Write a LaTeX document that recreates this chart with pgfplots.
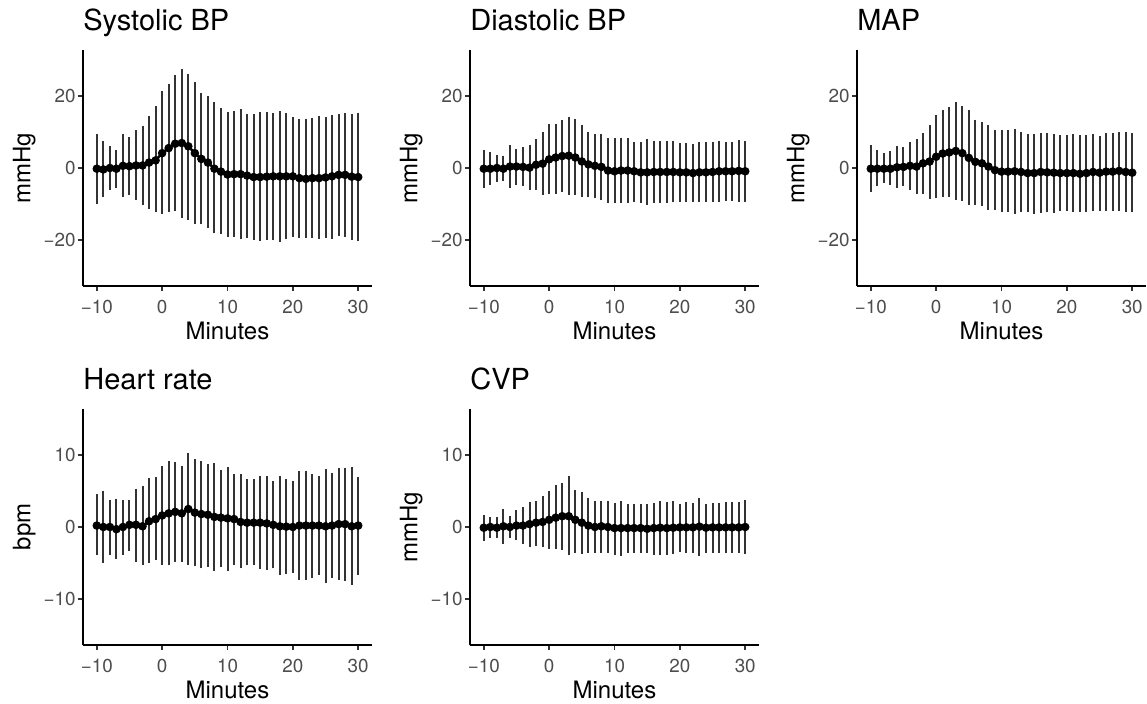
\documentclass[border=0pt]{standalone}
\usepackage{fontspec}
\setmainfont{TeX Gyre Heros}
\usepackage{pgfplots}
\usepackage{pgfplotstable}
\pgfplotsset{compat=1.18}
\definecolor{tickgray}{HTML}{4D4D4D}
\definecolor{bargray}{HTML}{333333}

% columns: minute, mean, lower end, upper end of the error bar
\pgfplotstableread{
t m lo hi
-10 -0.2 -9.2 8.8
-9 -0.4 -7.3 6.7
-8 0.0 -5.3 5.3
-7 -0.2 -4.7 4.3
-6 0.6 -7.4 8.8
-5 0.5 -6.7 7.8
-4 0.7 -8.2 9.7
-3 0.7 -9.6 11.0
-2 1.5 -10.5 13.8
-1 2.1 -11.4 16.3
0 4.1 -12.0 20.5
1 5.5 -11.4 22.5
2 6.7 -11.3 25.0
3 6.9 -13.1 26.7
4 6.0 -13.7 25.4
5 4.1 -14.9 23.0
6 2.5 -14.9 20.1
7 1.5 -16.0 19.2
8 -0.2 -17.4 17.5
9 -1.0 -17.5 15.9
10 -1.8 -18.4 14.8
11 -1.7 -18.4 15.0
12 -1.7 -19.0 15.6
13 -2.1 -18.7 14.3
14 -2.5 -19.3 14.2
15 -2.5 -19.6 14.7
16 -2.4 -19.3 14.7
17 -2.3 -19.1 14.4
18 -2.3 -19.7 15.1
19 -2.3 -19.0 14.6
20 -2.3 -18.4 13.5
21 -2.8 -18.6 12.9
22 -3.0 -18.7 12.9
23 -2.8 -18.7 13.2
24 -2.8 -19.0 13.6
25 -2.6 -18.6 13.4
26 -2.3 -18.8 13.9
27 -1.9 -18.2 14.2
28 -1.9 -18.3 14.6
29 -2.4 -19.1 14.2
30 -2.5 -19.5 14.6
}\sys

\pgfplotstableread{
t m lo hi
-10 -0.2 -4.9 4.4
-9 -0.2 -4.0 3.7
-8 0.0 -3.2 3.0
-7 -0.2 -2.9 2.7
-6 0.4 -4.9 5.6
-5 0.4 -4.1 4.6
-4 0.3 -4.4 5.1
-3 0.1 -5.3 5.8
-2 0.9 -5.3 7.2
-1 1.2 -6.7 9.2
0 2.4 -6.6 11.5
1 2.9 -6.4 11.6
2 3.3 -6.0 12.6
3 3.4 -6.8 13.5
4 2.9 -6.7 12.8
5 1.8 -7.4 11.3
6 1.0 -7.4 9.2
7 0.6 -7.6 8.7
8 0.3 -8.2 8.6
9 -0.7 -9.0 7.6
10 -0.9 -9.0 7.5
11 -0.7 -9.0 7.7
12 -0.7 -9.0 7.6
13 -0.9 -8.8 6.5
14 -1.2 -8.9 6.6
15 -1.2 -9.5 7.2
16 -1.1 -8.9 6.9
17 -1.1 -8.9 6.7
18 -1.1 -9.1 6.8
19 -1.1 -8.8 6.8
20 -1.2 -8.6 6.1
21 -1.2 -8.6 6.3
22 -1.4 -8.7 6.0
23 -1.2 -8.8 6.5
24 -1.2 -8.7 6.5
25 -1.1 -8.7 6.5
26 -0.9 -8.8 6.9
27 -0.9 -8.4 6.5
28 -0.9 -8.3 6.6
29 -0.8 -8.7 7.0
30 -0.9 -8.7 6.8
}\dia

\pgfplotstableread{
t m lo hi
-10 -0.2 -6.0 5.8
-9 -0.2 -4.4 4.3
-8 -0.2 -3.5 3.4
-7 -0.2 -4.0 3.9
-6 0.2 -4.9 5.3
-5 0.3 -4.3 5.0
-4 0.6 -5.4 6.5
-3 0.4 -6.5 7.3
-2 1.3 -6.5 8.9
-1 1.8 -7.8 11.2
0 3.1 -7.6 13.9
1 4.0 -7.3 15.2
2 4.3 -7.4 16.2
3 4.7 -8.2 17.5
4 4.1 -8.4 16.3
5 2.8 -9.5 15.3
6 1.7 -9.4 12.7
7 1.3 -9.8 12.0
8 0.4 -10.8 11.2
9 -0.6 -11.0 9.9
10 -1.0 -11.5 9.9
11 -1.0 -11.5 9.7
12 -0.9 -11.9 10.1
13 -1.1 -11.6 9.3
14 -1.4 -11.6 8.8
15 -1.4 -12.0 8.8
16 -1.1 -11.7 9.1
17 -1.2 -11.6 8.9
18 -1.3 -11.8 8.8
19 -1.4 -11.2 8.3
20 -1.4 -11.2 8.3
21 -1.4 -11.5 8.7
22 -1.6 -11.4 8.3
23 -1.4 -11.4 8.5
24 -1.1 -11.3 8.8
25 -1.3 -11.2 8.1
26 -1.0 -11.2 8.9
27 -1.0 -11.2 9.0
28 -0.8 -11.2 9.2
29 -1.1 -11.4 9.2
30 -1.3 -11.4 8.9
}\map

\pgfplotstableread{
t m lo hi
-10 0.2 -3.6 4.2
-9 0.0 -4.6 4.7
-8 0.0 -3.5 3.4
-7 -0.3 -4.1 3.6
-6 0.0 -3.5 3.4
-5 0.3 -3.0 3.4
-4 0.3 -4.5 5.0
-3 0.1 -5.0 5.3
-2 0.8 -4.6 6.4
-1 1.1 -4.3 6.6
0 1.6 -4.9 8.1
1 1.9 -5.0 8.8
2 2.1 -4.5 8.7
3 1.9 -4.5 8.2
4 2.5 -4.9 10.0
5 2.0 -5.1 9.1
6 1.8 -5.4 8.8
7 1.7 -5.2 8.4
8 1.4 -5.8 8.5
9 1.3 -5.2 7.6
10 1.2 -5.8 8.0
11 1.1 -5.0 7.0
12 0.7 -5.4 7.0
13 0.6 -5.0 6.3
14 0.6 -5.0 6.3
15 0.6 -5.5 6.8
16 0.5 -5.6 6.7
17 0.3 -5.4 6.0
18 0.1 -6.3 6.7
19 0.05 -6.2 6.3
20 0.0 -6.1 6.1
21 0.2 -7.0 7.4
22 0.2 -7.0 7.5
23 0.2 -6.7 7.0
24 0.2 -6.3 6.8
25 0.1 -7.5 7.7
26 0.2 -6.7 7.2
27 0.4 -7.0 7.9
28 0.4 -7.1 7.9
29 0.1 -7.7 8.0
30 0.2 -6.3 6.6
}\hr

\pgfplotstableread{
t m lo hi
-10 -0.1 -1.6 1.3
-9 0.0 -1.2 1.1
-8 -0.1 -1.2 1.1
-7 0.1 -2.0 2.2
-6 0.0 -1.25 1.2
-5 0.2 -1.5 2.0
-4 0.2 -2.0 2.4
-3 0.4 -2.5 3.1
-2 0.6 -2.3 3.2
-1 0.7 -2.5 3.9
0 1.0 -2.7 4.7
1 1.3 -2.7 5.5
2 1.5 -2.8 5.8
3 1.5 -3.6 6.7
4 1.0 -3.2 4.8
5 0.6 -3.4 4.5
6 0.2 -3.3 3.75
7 0.0 -3.2 3.3
8 0.1 -3.2 3.3
9 0.0 -3.3 3.2
10 -0.15 -3.55 3.05
11 -0.15 -3.7 3.2
12 -0.15 -3.2 2.8
13 -0.15 -3.2 2.8
14 -0.15 -3.3 2.9
15 -0.25 -3.3 2.8
16 -0.15 -3.5 3.0
17 -0.1 -3.6 3.3
18 -0.15 -3.55 3.15
19 -0.1 -3.4 3.2
20 -0.05 -3.1 2.9
21 -0.05 -3.2 3.1
22 -0.05 -3.2 3.0
23 0.05 -3.65 3.75
24 -0.1 -3.3 2.9
25 -0.05 -3.3 3.0
26 -0.05 -3.3 3.0
27 -0.05 -3.3 3.15
28 -0.05 -3.3 3.15
29 -0.05 -3.3 3.15
30 0.0 -3.4 3.4
}\cvp

\pgfplotsset{
  panel/.style={
    scale only axis, width=173.4pt, height=141.6pt,
    anchor=south west,
    axis x line*=bottom, axis y line*=left,
    axis line style={line width=1.1pt, -},
    xmin=-12.11, xmax=32.11,
    xtick={-10,0,10,20,30}, xticklabels={−10,0,10,20,30},
    tick align=outside, major tick length=3pt,
    tick style={bargray, line width=1.1pt},
    ticklabel style={font=\fontsize{11.3}{13}\selectfont, text=tickgray},
    xticklabel style={yshift=-1.8pt},
    yticklabel style={inner xsep=1.2pt},
    xlabel={Minutes},
    every axis x label/.style={at={(0.5,-0.2246)}, anchor=base, inner sep=0pt, font=\fontsize{14.4}{17}\selectfont},
    every axis y label/.style={at={(-0.1626,0.5)}, rotate=90, anchor=south, inner sep=0pt, font=\fontsize{14.4}{17}\selectfont},
    every axis title/.style={at={(0,1.0847)}, anchor=base west, inner sep=0pt, font=\fontsize{17.4}{20}\selectfont},
  },
  wide/.style={ymin=-32.6, ymax=32.6, ytick={-20,0,20}, yticklabels={−20,0,20}},
  narrow/.style={ymin=-16.4, ymax=16.4, ytick={-10,0,10}, yticklabels={−10,0,10}},
  meanline/.style={black, line width=1.5pt, mark=*, mark size=2.3pt,
    mark options={solid, fill=black, line width=0.5pt},
    error bars/.cd, y dir=both, y explicit,
    error bar style={line width=1.2pt, bargray},
    error mark options={bargray, line width=1.2pt, mark size=1.5pt}},
}

\begin{document}
\begin{tikzpicture}
\useasboundingbox (0,0) rectangle (688.2pt,-422.4pt);

\begin{axis}[panel, wide, at={(49.8pt,-171.6pt)}, title={Systolic BP}, ylabel={mmHg}]
\addplot[meanline] table[x=t, y=m, y error plus expr=\thisrow{hi}-\thisrow{m}, y error minus expr=\thisrow{m}-\thisrow{lo}] {\sys};
\end{axis}

\begin{axis}[panel, wide, at={(282pt,-171.6pt)}, title={Diastolic BP}, ylabel={mmHg}]
\addplot[meanline] table[x=t, y=m, y error plus expr=\thisrow{hi}-\thisrow{m}, y error minus expr=\thisrow{m}-\thisrow{lo}] {\dia};
\end{axis}

\begin{axis}[panel, wide, at={(514.2pt,-171.6pt)}, title={MAP}, ylabel={mmHg}]
\addplot[meanline] table[x=t, y=m, y error plus expr=\thisrow{hi}-\thisrow{m}, y error minus expr=\thisrow{m}-\thisrow{lo}] {\map};
\end{axis}

\begin{axis}[panel, narrow, at={(49.8pt,-387pt)}, title={Heart rate}, ylabel={bpm}]
\addplot[meanline] table[x=t, y=m, y error plus expr=\thisrow{hi}-\thisrow{m}, y error minus expr=\thisrow{m}-\thisrow{lo}] {\hr};
\end{axis}

\begin{axis}[panel, narrow, at={(282pt,-387pt)}, title={CVP}, ylabel={mmHg}]
\addplot[meanline] table[x=t, y=m, y error plus expr=\thisrow{hi}-\thisrow{m}, y error minus expr=\thisrow{m}-\thisrow{lo}] {\cvp};
\end{axis}
\end{tikzpicture}
\end{document}
